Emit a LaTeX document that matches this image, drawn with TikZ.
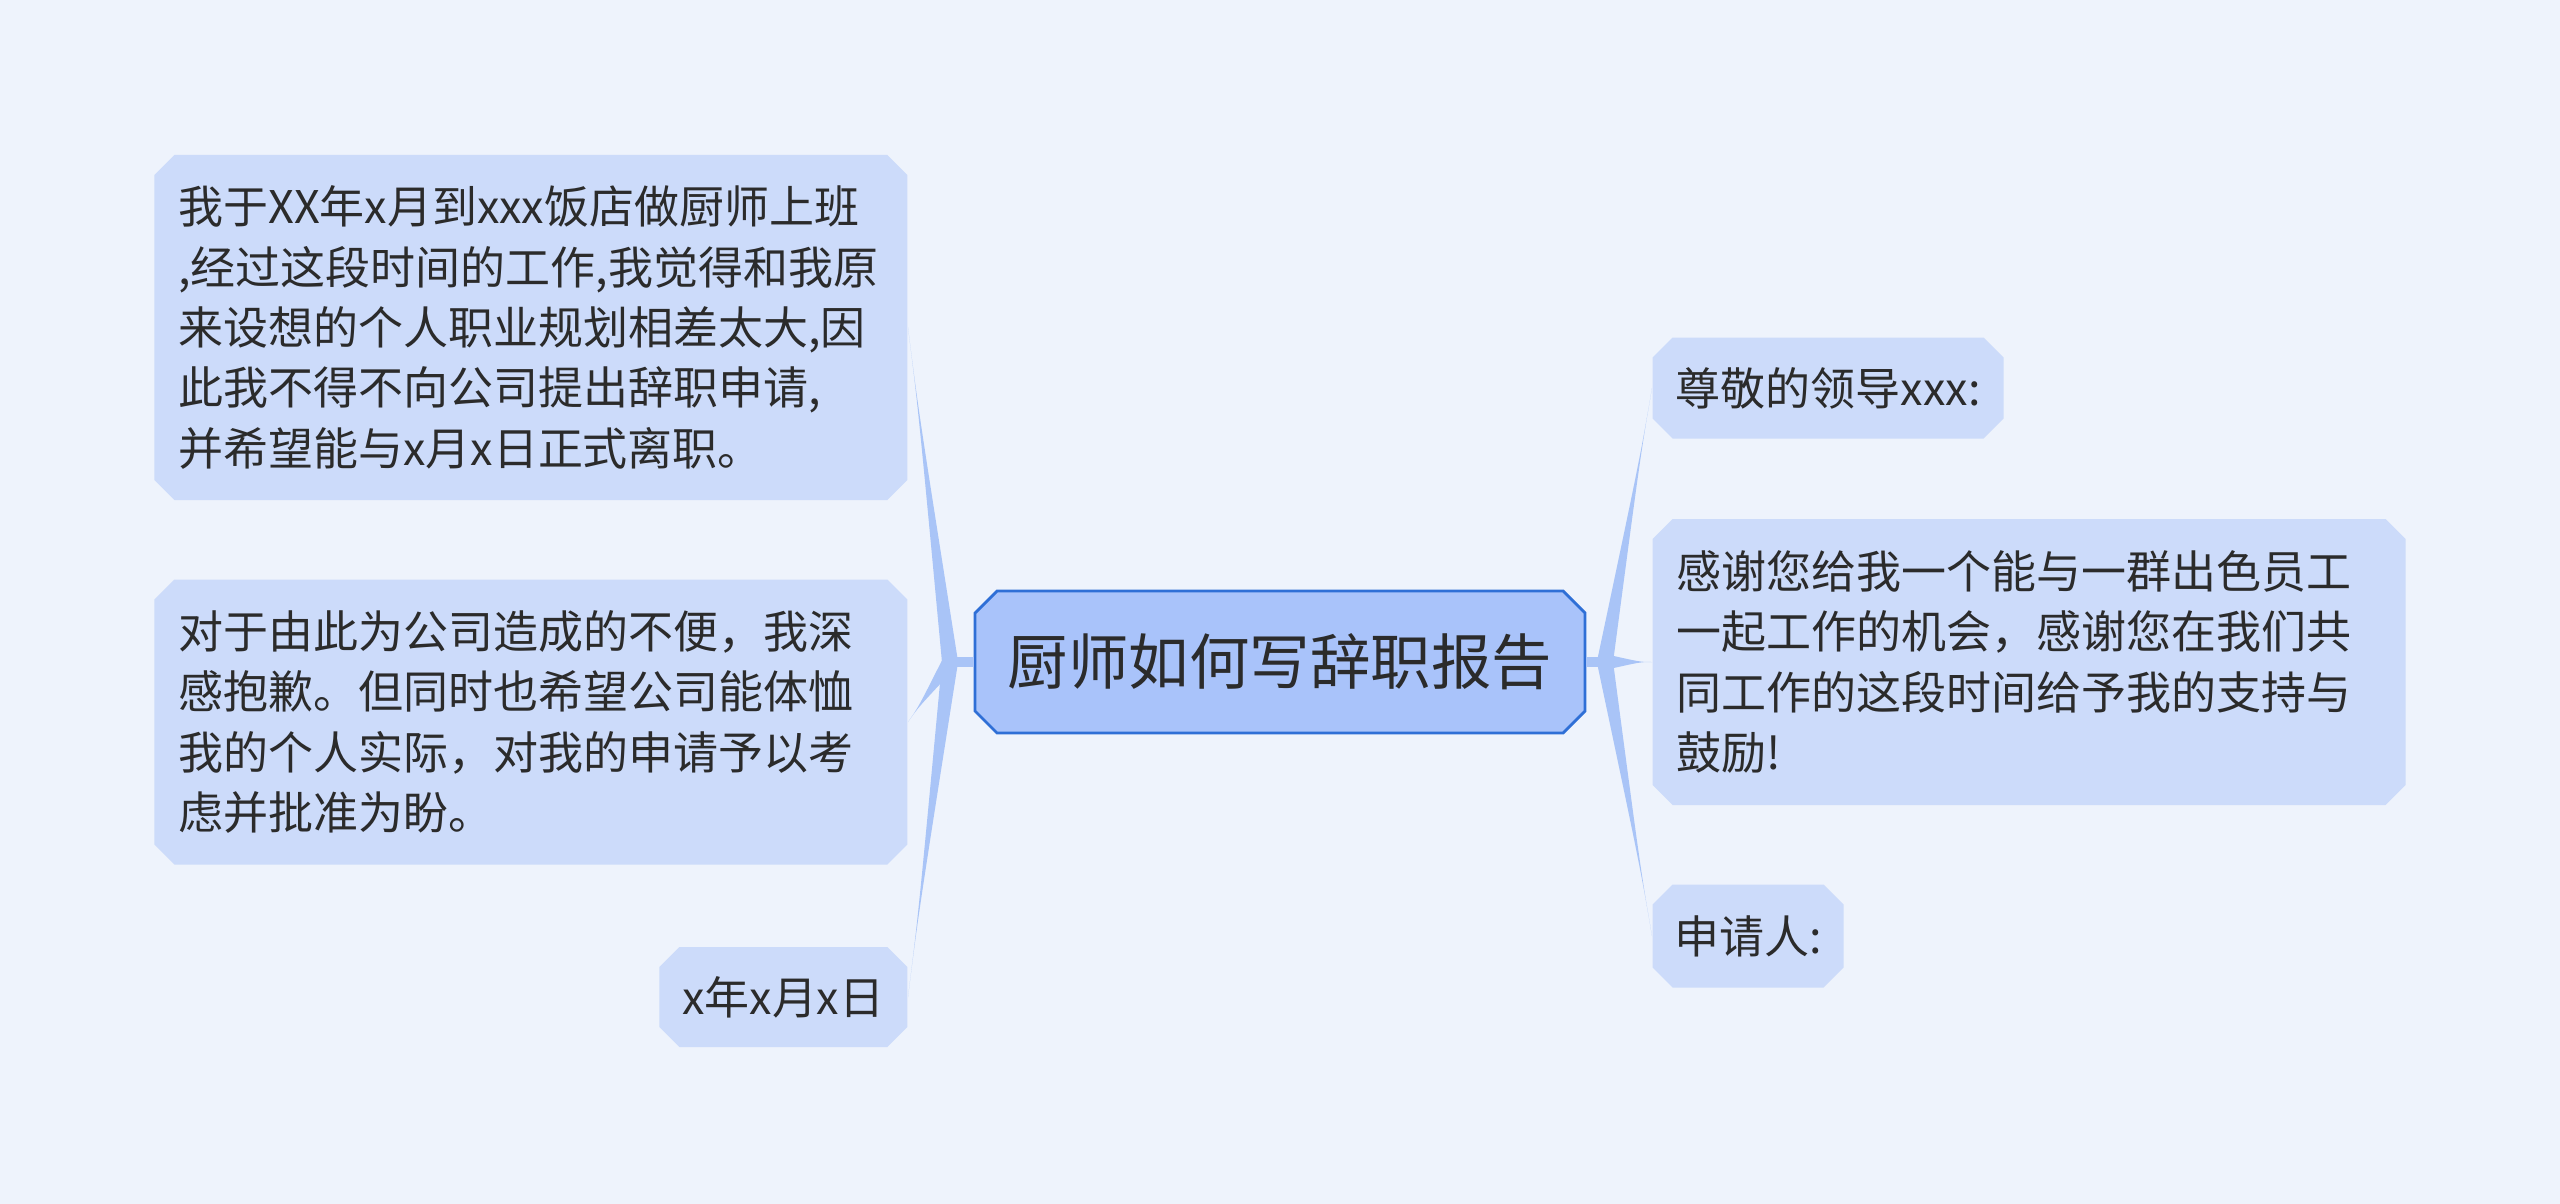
\documentclass[tikz,border=0pt]{standalone}
\usepackage{fontspec}
\usepackage{xcolor}
\usepackage{tikz}
\usetikzlibrary{shapes.misc, calc, positioning}
\newfontfamily\cjk{Noto Sans CJK SC}
\definecolor{bgcol}{HTML}{EEF3FC}
\definecolor{leafcol}{HTML}{CCDBFA}
\definecolor{rootfill}{HTML}{A9C3FA}
\definecolor{rootline}{HTML}{2F6FD6}
\definecolor{branchcol}{HTML}{A9C4F7}
\definecolor{txtcol}{HTML}{2B2B2B}
\newcommand{\leaffont}{\cjk\fontsize{12.8pt}{17.2pt}\selectfont}
\newcommand{\rootfont}{\cjk\fontsize{17.2pt}{20pt}\selectfont}
\tikzset{
  leaf/.style   = {chamfered rectangle, chamfered rectangle xsep=0.1cm,
                   chamfered rectangle ysep=0.1cm, fill=leafcol, text=txtcol,
                   inner xsep=0.02cm, inner ysep=0.02cm, font=\leaffont},
  leafW/.style  = {leaf, text width=7.05cm, align=left, minimum width=7.53cm},
  root/.style   = {chamfered rectangle, chamfered rectangle xsep=0.11cm,
                   chamfered rectangle ysep=0.11cm, fill=rootfill, draw=rootline,
                   line width=0.8pt, text=txtcol, inner sep=0.02cm,
                   minimum width=6.1cm, minimum height=1.42cm, font=\rootfont},
  branch/.style = {fill=branchcol},
  stem/.style   = {draw=branchcol, line width=0.1cm},
}
%% tapered branch from a junction to a node anchor
\newcommand{\spike}[3][0.08cm]{%
  \fill[branch] ($(#2)!#1!90:(#3)$) .. controls ($(#2)!0.75!(#3)$) .. (#3)
     .. controls ($(#2)!0.75!(#3)$) .. ($(#2)!#1!-90:(#3)$) -- cycle;}

\begin{document}
\begin{tikzpicture}

    %% Background and size
    \fill[bgcol] (0,0) rectangle (25.6,-12.04);
    \useasboundingbox (0,0) rectangle (25.6,-12.04);

    %% Central topic
    \node[root] (main) at (12.80,-6.62) {厨师如何写辞职报告};

    %% Junctions
    \coordinate (jl) at (9.50,-6.62);
    \coordinate (jr) at (16.05,-6.62);

    %% Left leaves
    \node[leafW, minimum height=3.45cm, anchor=east] (l1) at (9.08,-3.275)
      {我于XX年x月到xxx饭店做厨师上班\\,经过这段时间的工作,我觉得和我原\\来设想的个人职业规划相差太大,因\\此我不得不向公司提出辞职申请,\\并希望能与x月x日正式离职。};
    \node[leafW, minimum height=2.85cm, anchor=east] (l2) at (9.08,-7.22)
      {对于由此为公司造成的不便，我深\\感抱歉。但同时也希望公司能体恤\\我的个人实际，对我的申请予以考\\虑并批准为盼。};
    \node[leaf, minimum width=2.48cm, minimum height=1.0cm, anchor=east] (l3) at (9.08,-9.97)
      {x年x月x日};

    %% Right leaves
    \node[leaf, minimum width=3.51cm, minimum height=1.01cm, anchor=west] (r1) at (16.52,-3.88)
      {尊敬的领导xxx:};
    \node[leafW, minimum height=2.86cm, anchor=west] (r2) at (16.52,-6.62)
      {感谢您给我一个能与一群出色员工\\一起工作的机会，感谢您在我们共\\同工作的这段时间给予我的支持与\\鼓励!};
    \node[leaf, minimum width=1.91cm, minimum height=1.03cm, anchor=west] (r3) at (16.52,-9.36)
      {申请人:};

    %% Connectors
    \draw[stem] (main.west) -- (jl);
    \draw[stem] (main.east) -- (jr);
    \spike{jl}{l1.east}
    \spike{jl}{l2.east}
    \spike{jl}{l3.east}
    \spike{jr}{r1.west}
    \spike{jr}{r2.west}
    \spike{jr}{r3.west}

\end{tikzpicture}
\end{document}
